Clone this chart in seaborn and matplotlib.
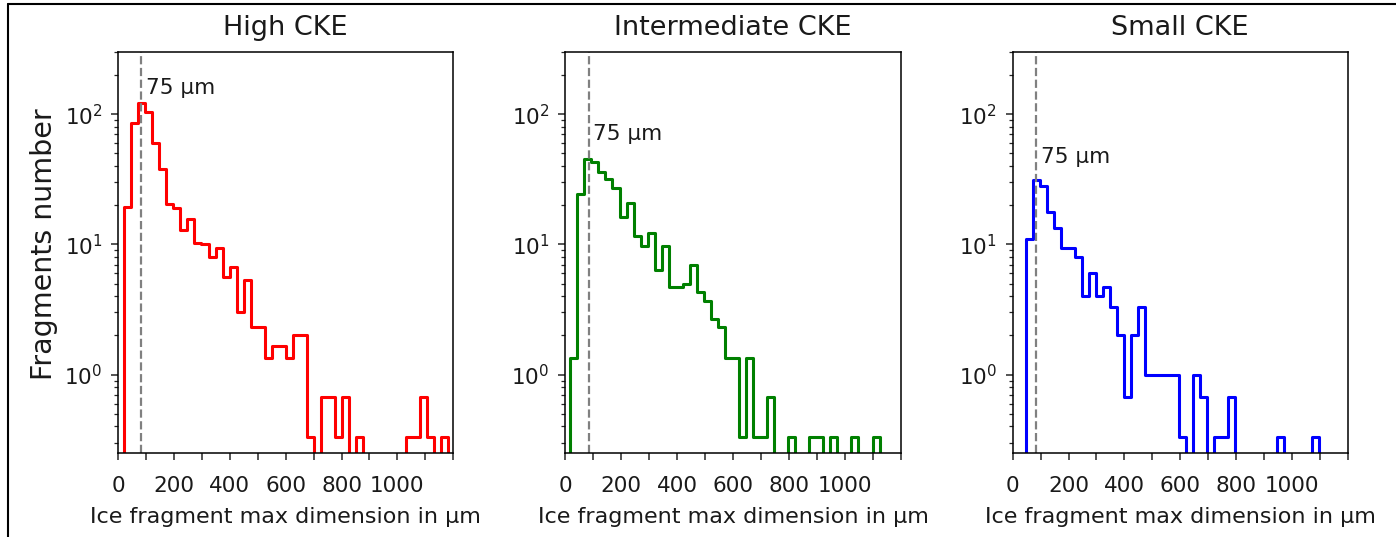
import numpy as np
import pandas as pd
import matplotlib
matplotlib.use("Agg")
from matplotlib import pyplot as plt
from matplotlib.lines import Line2D
import seaborn as sns

sns.set_style("ticks")
plt.rcParams["font.family"] = ["DejaVu Sans"]

titles = ["High CKE", "Intermediate CKE", "Small CKE"]
colors = ["red", "green", "blue"]

# first bin edge and bin width of each case (µm)
bin_start = [21.6, 17.9, 48.9]
bin_width = [25.2, 25.15, 24.9]

# mean fragment number per bin
high_counts = [19.33, 86.33, 121.67, 104.0, 59.67, 37.67, 20.33, 19.0, 13.0, 15.67,
               10.33, 10.0, 8.0, 9.33, 5.67, 6.67, 3.0, 5.33, 2.33, 2.33,
               1.33, 1.67, 1.67, 1.33, 2.0, 2.0, 0.33, 0, 0.67, 0.67,
               0.33, 0.67, 0, 0.33, 0, 0, 0, 0, 0, 0,
               0.33, 0.33, 0.67, 0.33, 0, 0.33]
mid_counts = [1.33, 24.33, 45.67, 43.0, 36.0, 31.67, 27.0, 16.33, 20.67, 11.67,
              9.67, 12.33, 6.33, 9.67, 4.67, 4.67, 5.0, 7.0, 4.33, 3.67,
              2.67, 2.33, 1.33, 1.33, 0.33, 1.33, 0.33, 0.33, 0.67, 0,
              0, 0.33, 0, 0, 0.33, 0.33, 0, 0.33, 0, 0,
              0.33, 0, 0, 0.33]
small_counts = [11.0, 31.0, 28.0, 17.67, 13.33, 9.33, 9.33, 8.0, 4.0, 6.0,
                4.0, 4.67, 3.33, 2.0, 0.67, 2.0, 3.33, 1.0, 1.0, 1.0,
                1.0, 1.0, 0.33, 0, 1.0, 0.67, 0, 0.33, 0.33, 0.67,
                0, 0, 0, 0, 0, 0, 0.33, 0, 0, 0,
                0, 0.33]
all_counts = [high_counts, mid_counts, small_counts]

cut_line = 84          # position of the dashed marker
label_y = [158, 70, 47]

xticks = np.arange(0, 1201, 100)
xticklabels = [str(v) if (v % 200 == 0 and v <= 1000) else "" for v in xticks]

fig, axs = plt.subplots(ncols=3, figsize=(13.96, 5.37), dpi=100)
fig.subplots_adjust(left=0.0845, right=0.9656, bottom=0.1564, top=0.903, wspace=0.334)

for ax, counts, start, width, color, title, ty in zip(axs, all_counts, bin_start, bin_width,
                                                       colors, titles, label_y):
    # pad with an empty bin on each side so the step drops to the axis
    vals = [0.0] + list(counts) + [0.0]
    edges = list(start - width + width * np.arange(len(vals) + 1))
    df = pd.DataFrame({"size": [e + width / 2 for e in edges[:-1]], "n": vals})

    sns.histplot(data=df, x="size", weights="n", bins=edges, element="step", fill=False,
                 color=color, linewidth=2.2, ax=ax)

    ax.set_yscale("log")
    ax.set_ylim(0.25, 300)
    ax.set_xlim(0, 1200)
    ax.set_xticks(xticks)
    ax.set_xticklabels(xticklabels)

    ax.axvline(cut_line, color="gray", ls="--", lw=1.6)
    ax.text(100, ty, "75 µm", va="center", ha="left", fontsize=15.5, color=".1")

    ax.set_title(title, fontsize=19.5, pad=12, color=".1")
    ax.set_xlabel("Ice fragment max dimension in µm", fontsize=16, labelpad=8, color=".1")
    ax.set_ylabel("")
    ax.tick_params(axis="both", which="major", labelsize=15.5, length=5.3, width=1.1,
                   labelcolor=".1")
    ax.tick_params(axis="x", which="major", pad=11.5)
    ax.tick_params(axis="y", which="major", pad=6)
    ax.tick_params(axis="y", which="minor", length=3.0, width=0.9)
    for sp in ax.spines.values():
        sp.set_linewidth(1.1)
        sp.set_color("black")

axs[0].set_ylabel("Fragments number", fontsize=20.5, color=".1")
axs[0].yaxis.set_label_coords(-0.178, 0.52)

# thin frame along the top and left edge of the picture
fig.add_artist(Line2D([8 / 1396, 1], [1 - 4 / 537, 1 - 4 / 537], transform=fig.transFigure,
                      color="black", lw=1.5))
fig.add_artist(Line2D([8 / 1396, 8 / 1396], [0, 1 - 4 / 537], transform=fig.transFigure,
                      color="black", lw=1.5))

fig.savefig("out.png", dpi=100)
